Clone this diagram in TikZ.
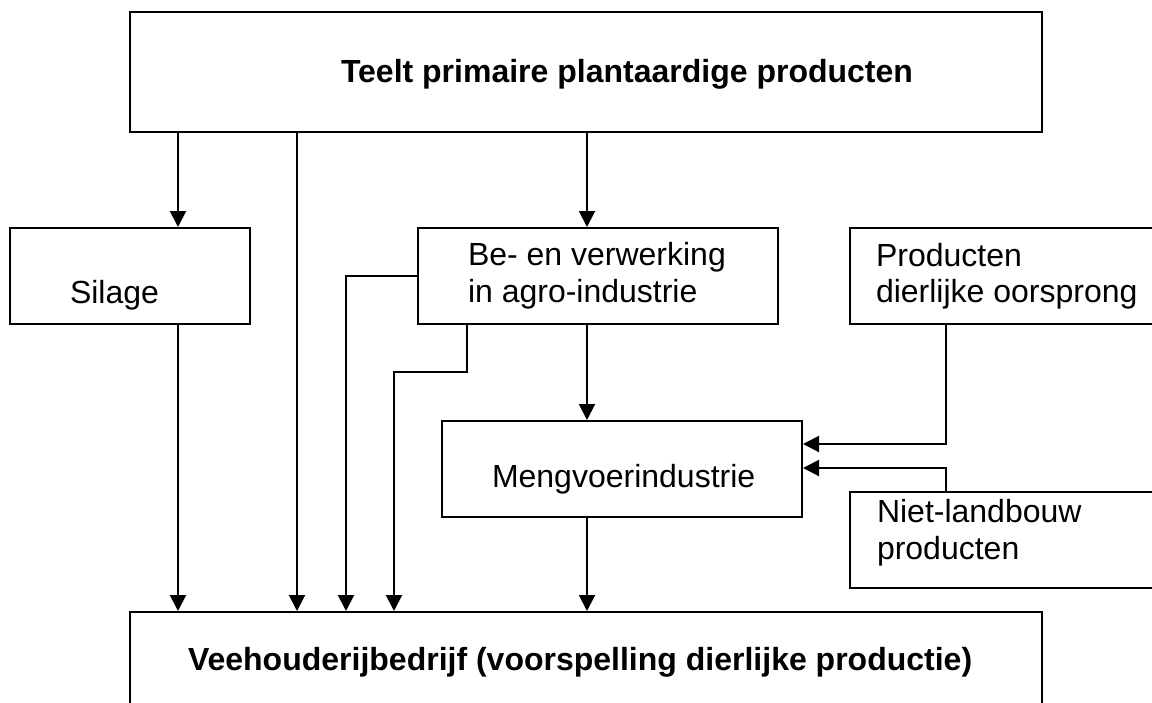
\documentclass[tikz,border=0pt]{standalone}
\usepackage{fontspec}
\setmainfont{Liberation Sans}
\usetikzlibrary{arrows.meta,fit,calc}
\begin{document}
\begin{tikzpicture}[x=0.5pt,y=-0.5pt,line width=1pt,
  box/.style={draw,line width=1pt,inner sep=0pt,fit={#1}},
  txt/.style={inner sep=0pt,anchor=base west,font=\fontsize{16}{18.5}\selectfont},
  btxt/.style={inner sep=0pt,anchor=base west,font=\fontsize{16}{18.5}\selectfont\bfseries},
  flow/.style={-{Triangle[length=8pt,width=8pt]},line width=1pt}]
\useasboundingbox (0,0) rectangle (1152,702);
\clip (0,0) rectangle (1152,702);
% boxes
\node[box={(130,12)(1042,132)}] (top) {};
\node[box={(10,228)(250,324)}] (sil) {};
\node[box={(418,228)(778,324)}] (be) {};
\node[box={(850,228)(1190,324)}] (prod) {};
\node[box={(442,421)(802,517)}] (meng) {};
\node[box={(850,492)(1190,588)}] (niet) {};
\node[box={(130,612)(1042,740)}] (bot) {};
% texts
\node[btxt] (tTop) at (340,82) {Teelt primaire plantaardige producten};
\node[txt] (tSil) at (69,303) {Silage};
\node[txt] (tBe1) at (467,265) {Be- en verwerking};
\node[txt] (tBe2) at (467,302) {in agro-industrie};
\node[txt] (tPr1) at (875,266) {Producten};
\node[txt] (tPr2) at (875,302) {dierlijke oorsprong};
\node[txt] (tMe) at (491,487) {Mengvoerindustrie};
\node[txt] (tNi1) at (876,522) {Niet-landbouw};
\node[txt] (tNi2) at (876,559) {producten};
\node[btxt] (tBot) at (187,670) {Veehouderijbedrijf (voorspelling dierlijke productie)};
% column / row helpers
\coordinate (xA) at (178,0);
\coordinate (xB) at (297,0);
\coordinate (xC) at (346,0);
\coordinate (xD) at (467,0);
\coordinate (xF) at (394,0);
\coordinate (xE) at (587,0);
\coordinate (xG) at (946,0);
\coordinate (yP) at (0,444);
\coordinate (yN) at (0,468);
\coordinate (yS) at (0,372);
% connectors
\draw[flow] (top.south -| xA) -- (sil.north -| xA);
\draw[flow] (top.south -| xB) -- (bot.north -| xB);
\draw[flow] (top.south -| xE) -- (be.north -| xE);
\draw[flow] (sil.south -| xA) -- (bot.north -| xA);
\draw[flow] (be.west) -| (bot.north -| xC);
\draw[flow] (be.south -| xD) -- (xD |- yS) -| (bot.north -| xF);
\draw[flow] (be.south -| xE) -- (meng.north -| xE);
\draw[flow] (meng.south -| xE) -- (bot.north -| xE);
\draw[flow] (prod.south -| xG) |- (meng.east |- yP);
\draw[flow] (niet.north -| xG) |- (meng.east |- yN);
\end{tikzpicture}
\end{document}
